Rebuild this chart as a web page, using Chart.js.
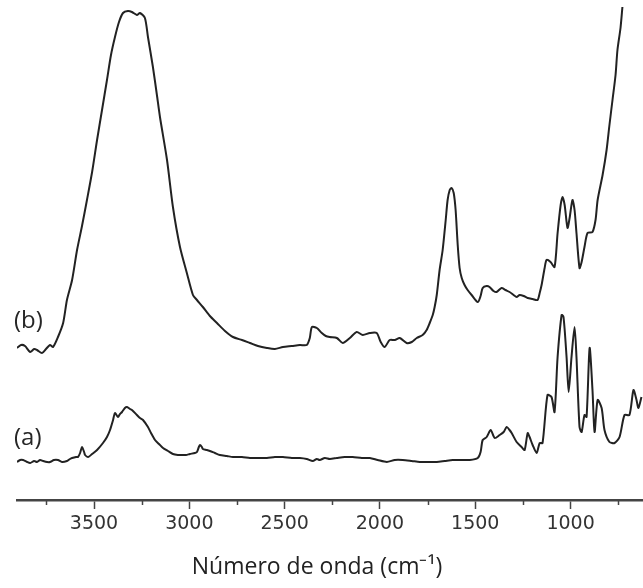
<!DOCTYPE html>
<html>
<head>
    <title>Espectros FTIR (a) e (b)</title>
    <style>
        body { margin: 0; padding: 0; background: #fff; }
        #chartContainer { width: 643px; height: 588px; }
    </style>
    <script src="https://cdn.jsdelivr.net/npm/chart.js"></script>
</head>
<body>

    <div id="chartContainer">
        <canvas id="ftirChart"></canvas>
    </div>

    <script>
        // espectro (b): numero de onda (cm-1) e intensidade (u.a.)
        const waveB = [3904, 3883, 3862, 3835, 3814, 3799, 3773, 3752, 3731, 3715, 3689, 3662, 3642, 3615, 3589, 3563, 3537, 3510,
            3484, 3458, 3432, 3411, 3390, 3369, 3348, 3322, 3301, 3275, 3259, 3233, 3217, 3191, 3170, 3154, 3117, 3086, 3049, 3013,
            2981, 2960, 2929, 2892, 2855, 2813, 2771, 2724, 2682, 2640, 2593, 2551, 2509, 2462, 2420, 2384, 2368, 2357, 2331, 2305,
            2284, 2263, 2226, 2195, 2158, 2122, 2090, 2053, 2017, 1996, 1975, 1949, 1922, 1896, 1860, 1833, 1807, 1776, 1755, 1739,
            1723, 1713, 1702, 1687, 1671, 1655, 1645, 1634, 1624, 1613, 1603, 1592, 1582, 1571, 1556, 1540, 1519, 1487, 1472, 1461,
            1440, 1425, 1404, 1388, 1362, 1341, 1320, 1299, 1283, 1267, 1246, 1225, 1199, 1173, 1162, 1152, 1136, 1126, 1105, 1084,
            1068, 1052, 1042, 1031, 1016, 1005, 990, 979, 969, 953, 942, 927, 911, 885, 869, 858, 832, 811, 796, 780, 764, 754, 738, 728];
        const intB = [152, 155, 154, 148, 151, 150, 147, 151, 155, 153, 163, 177, 200, 220, 250, 274, 300, 328,
            360, 390, 420, 445, 463, 478, 487, 489, 488, 485, 487, 482, 463, 433, 405, 383, 340, 293, 253, 227,
            205, 200, 193, 184, 177, 169, 163, 160, 157, 154, 152, 151, 153, 154, 155, 155, 162, 173, 172, 167,
            164, 163, 162, 157, 162, 168, 165, 167, 167, 158, 153, 160, 160, 162, 157, 158, 162, 165, 170, 177,
            185, 193, 205, 230, 250, 280, 300, 310, 312, 307, 290, 255, 232, 222, 215, 210, 205, 198, 204, 212,
            214, 213, 209, 208, 212, 210, 208, 205, 203, 205, 204, 202, 201, 200, 207, 215, 232, 240, 238, 233,
            267, 295, 303, 295, 272, 282, 300, 290, 267, 232, 238, 253, 267, 268, 280, 300, 325, 350, 375, 400, 425, 450, 472, 493];

        // espectro (a)
        const waveA = [3904, 3888, 3872, 3851, 3835, 3814, 3799, 3783, 3767, 3746, 3731, 3710, 3689, 3668, 3642, 3626, 3615, 3594,
            3584, 3573, 3563, 3552, 3547, 3531, 3510, 3484, 3453, 3432, 3416, 3400, 3390, 3374, 3364, 3353, 3338, 3327, 3311, 3301,
            3275, 3259, 3243, 3217, 3201, 3180, 3159, 3138, 3112, 3086, 3060, 3039, 3018, 2997, 2971, 2960, 2950, 2944, 2934, 2929,
            2908, 2892, 2866, 2840, 2803, 2771, 2724, 2682, 2640, 2593, 2551, 2509, 2462, 2420, 2384, 2352, 2331, 2316, 2289, 2263,
            2226, 2185, 2143, 2095, 2053, 2012, 1964, 1922, 1881, 1833, 1791, 1749, 1702, 1660, 1618, 1571, 1529, 1487, 1472, 1461,
            1440, 1419, 1398, 1372, 1351, 1335, 1320, 1309, 1283, 1257, 1241, 1225, 1215, 1199, 1178, 1162, 1147, 1121, 1100, 1084,
            1068, 1047, 1037, 1021, 1010, 995, 979, 969, 953, 942, 927, 916, 900, 885, 874, 858, 837, 822, 796, 769, 743, 717,
            691, 670, 654, 644, 628];
        const intA = [38, 40, 40, 38, 37, 39, 38, 40, 39, 38, 38, 40, 40, 38, 39, 41, 42, 43,
            43, 47, 53, 48, 45, 43, 46, 50, 57, 63, 70, 80, 87, 83, 86, 88, 92, 93, 91, 90,
            85, 82, 80, 73, 67, 60, 56, 52, 49, 46, 45, 45, 45, 46, 47, 48, 53, 55, 53, 51,
            50, 49, 47, 45, 44, 43, 43, 42, 42, 42, 43, 43, 42, 42, 41, 39, 41, 40, 42, 41,
            42, 43, 43, 42, 42, 40, 38, 40, 40, 39, 38, 38, 38, 39, 40, 40, 40, 42, 48, 60,
            63, 70, 62, 65, 68, 73, 70, 67, 58, 53, 50, 67, 63, 55, 47, 57, 57, 105, 103, 88,
            143, 185, 183, 143, 108, 143, 173, 143, 73, 68, 85, 83, 152, 110, 68, 100, 92, 70, 58, 57, 63, 85,
            85, 110, 100, 92, 103];

        const majorTicks = [3500, 3000, 2500, 2000, 1500, 1000];
        const minorTicks = [3750, 3250, 2750, 2250, 1750, 1250, 750];
        const axisTitle = 'Número de onda (cm⁻¹)';
        const curveLabels = ['(a)', '(b)'];

        const toPoints = (xs, ys) => xs.map((x, i) => ({ x: x, y: ys[i] }));

        // rotulos (a)/(b), ticks menores e titulo do eixo
        const annotations = {
            id: 'annotations',
            afterDraw(chart) {
                const ctx = chart.ctx;
                const xs = chart.scales.x;
                ctx.save();

                ctx.strokeStyle = '#444';
                ctx.lineWidth = 1.5;
                minorTicks.forEach(v => {
                    const px = Math.round(xs.getPixelForValue(v)) + 0.5;
                    ctx.beginPath();
                    ctx.moveTo(px, xs.top);
                    ctx.lineTo(px, xs.top + 5);
                    ctx.stroke();
                });

                ctx.fillStyle = '#262626';
                ctx.font = '24px "Open Sans"';
                ctx.textAlign = 'left';
                ctx.textBaseline = 'middle';
                ctx.fillText(curveLabels[0], 14, 438);
                ctx.fillText(curveLabels[1], 14, 321);

                ctx.font = '23px "Open Sans"';
                ctx.textAlign = 'center';
                ctx.fillStyle = '#222';
                ctx.fillText(axisTitle, (xs.left + xs.right) / 2 - 13, 567);
                ctx.restore();
            }
        };

        const ctx = document.getElementById('ftirChart').getContext('2d');
        new Chart(ctx, {
            type: 'line',
            data: {
                datasets: [{
                    label: curveLabels[0],
                    data: toPoints(waveA, intA),
                    borderColor: '#222',
                    borderWidth: 2,
                    pointRadius: 0,
                    tension: 0.25,
                    fill: false
                }, {
                    label: curveLabels[1],
                    data: toPoints(waveB, intB),
                    borderColor: '#222',
                    borderWidth: 2,
                    pointRadius: 0,
                    tension: 0.25,
                    fill: false
                }]
            },
            options: {
                responsive: true,
                maintainAspectRatio: false,
                animation: false,
                layout: { padding: { left: 17, right: 0, top: 0, bottom: 0 } },
                plugins: {
                    legend: { display: false },
                    tooltip: { enabled: false }
                },
                scales: {
                    x: {
                        type: 'linear',
                        reverse: true,
                        min: 620,
                        max: 3904,
                        // only the labelled ticks go through the scale
                        afterBuildTicks: scale => {
                            scale.ticks = majorTicks.map(v => ({ value: v }));
                        },
                        afterFit: scale => { scale.height = 88; },
                        border: { display: true, color: '#444', width: 2.5 },
                        grid: {
                            display: true,
                            drawOnChartArea: false,
                            drawTicks: true,
                            tickLength: 9,
                            tickWidth: 1.5,
                            tickColor: '#444'
                        },
                        ticks: {
                            autoSkip: false,
                            maxRotation: 0,
                            padding: 4,
                            color: '#333',
                            font: { family: '"DejaVu Sans", sans-serif', size: 19 },
                            callback: v => String(v)
                        }
                    },
                    y: {
                        display: false,
                        min: 0,
                        max: 500
                    }
                }
            },
            plugins: [annotations]
        });
    </script>

</body>
</html>
